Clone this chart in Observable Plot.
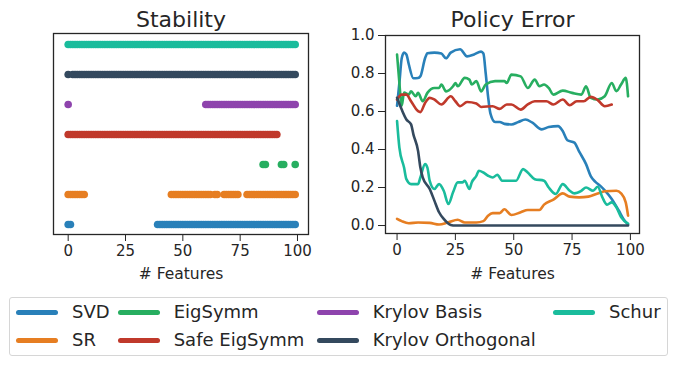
<!DOCTYPE html>
<html>
<head>
<meta charset="utf-8">
<script src="https://cdn.jsdelivr.net/npm/d3@7"></script>
<script src="https://cdn.jsdelivr.net/npm/@observablehq/plot@0.6"></script>
<style>
  html, body { margin: 0; padding: 0; background: #fff; }
  #wrap { position: relative; width: 676px; height: 367px; font-family: "DejaVu Sans", sans-serif; color: #262626; }
  #left, #right { position: absolute; top: 0; }
  #left { left: 0; }
  #right { left: 330px; }
  #legend { position: absolute; left: 9px; top: 297px; width: 659px; height: 59px; border: 1px solid #d6d6d6; border-radius: 3px; box-sizing: border-box; }
  .item { position: absolute; height: 24px; font-size: 18px; line-height: 24px; white-space: nowrap; }
  .swatch { position: absolute; left: 0; top: 10px; width: 42px; height: 4.5px; border-radius: 3px; }
  .lab { position: absolute; left: 56px; top: 0; }
</style>
</head>
<body>
<div id="wrap">
  <div id="left"></div>
  <div id="right"></div>
  <div id="legend"></div>
</div>
<script>
// ---- categories & colours ----
const methods = ["SVD", "SR", "EigSymm", "Safe EigSymm", "Krylov Basis", "Krylov Orthogonal", "Schur"];
const colors  = ["#2980b9", "#e67e22", "#27ae60", "#c0392b", "#8e44ad", "#34495e", "#1abc9c"];
const xTicks = [0, 25, 50, 75, 100];
const yTicks = [0, 0.2, 0.4, 0.6, 0.8, 1.0];

// ---- Stability: ranges of # features [from, to] where the method is stable ----
const stableSVD      = [[0, 1], [39, 99]];
const stableSR       = [[0, 7], [45, 62], [64, 65], [68, 74], [78, 99]];
const stableEigSymm  = [[85, 86], [93, 94], [99, 99]];
const stableSafeEig  = [[0, 91]];
const stableKBasis   = [[0, 0], [60, 99]];
const stableKOrth    = [[0, 0], [2, 99]];
const stableSchur    = [[0, 99]];

// ---- Policy error: [# features, error] ----
const errSVD = [[0,.63],[1,.75],[2,.88],[3,.91],[4,.9],[5,.85],[7,.775],[9,.776],[10,.785],[12,.88],[13,.907],[16,.91],[19,.905],[21,.88],[23,.91],[27,.928],[30,.89],[33,.9],[36,.915],[37,.905],[38,.8],[39,.68],[40,.59],[42,.545],[44,.545],[46,.535],[49,.532],[52,.545],[55,.558],[58,.541],[62,.506],[65,.518],[69,.523],[71,.497],[73,.449],[76,.436],[78,.39],[81,.323],[83,.26],[85,.23],[87,.21],[89,.185],[92,.14],[95,.079],[97,.035],[99,.005]];
const errSR = [[0,.035],[2,.023],[5,.012],[9,.016],[14,.014],[18,.005],[22,.017],[26,.03],[29,.016],[34,.016],[37,.023],[39,.052],[41,.065],[44,.065],[46,.086],[49,.055],[53,.07],[56,.082],[61,.082],[63,.11],[67,.136],[71,.169],[74,.152],[78,.148],[82,.152],[86,.169],[89,.18],[94,.183],[96,.169],[98,.122],[99,.052]];
const errEigSymm = [[0,.9],[1,.75],[2,.63],[3,.7],[5,.689],[6,.706],[8,.68],[9,.698],[11,.654],[13,.698],[16,.724],[18,.724],[19,.742],[21,.706],[24,.733],[25,.75],[26,.733],[29,.777],[31,.768],[32,.742],[34,.76],[36,.706],[38,.742],[42,.76],[46,.76],[47,.75],[49,.794],[53,.785],[56,.724],[59,.768],[61,.733],[63,.742],[65,.724],[67,.689],[71,.71],[75,.698],[79,.689],[81,.733],[83,.672],[86,.663],[89,.68],[92,.75],[94,.707],[96,.742],[98,.777],[99,.68]];
const errSafeEig = [[0,.663],[2,.689],[4,.689],[6,.654],[9,.602],[10,.597],[12,.645],[14,.672],[16,.663],[19,.637],[23,.68],[25,.654],[27,.628],[30,.65],[34,.642],[36,.624],[41,.628],[44,.614],[47,.637],[49,.637],[53,.61],[56,.637],[59,.654],[64,.654],[67,.637],[71,.663],[74,.633],[77,.654],[80,.654],[83,.677],[86,.66],[89,.628],[92,.637]];
const errKOrth = [[0,.672],[2,.61],[4,.558],[6,.532],[7,.48],[9,.393],[10,.305],[11,.253],[14,.192],[16,.131],[18,.07],[20,.035],[23,.003],[25,0],[99,0]];
const errSchur = [[0,.55],[1,.41],[3,.305],[4,.244],[6,.218],[9,.218],[10,.253],[12,.323],[13,.305],[14,.235],[16,.192],[18,.218],[20,.183],[22,.113],[24,.175],[26,.227],[28,.227],[29,.236],[31,.192],[32,.227],[34,.262],[35,.288],[37,.279],[39,.262],[41,.253],[43,.267],[45,.236],[48,.236],[51,.236],[54,.297],[56,.279],[59,.244],[63,.236],[65,.2],[68,.166],[71,.218],[74,.183],[76,.169],[79,.183],[81,.2],[84,.183],[86,.204],[88,.148],[90,.11],[92,.122],[94,.096],[96,.044],[99,.01]];

// ---- build tables ----
const stableRanges = {"SVD": stableSVD, "SR": stableSR, "EigSymm": stableEigSymm, "Safe EigSymm": stableSafeEig,
  "Krylov Basis": stableKBasis, "Krylov Orthogonal": stableKOrth, "Schur": stableSchur};
const stab = [];
for (const m of methods) for (const [a, b] of stableRanges[m]) for (let f = a; f <= b; f++) stab.push({method: m, f});

const errSeries = {"SVD": errSVD, "SR": errSR, "EigSymm": errEigSymm, "Safe EigSymm": errSafeEig,
  "Krylov Orthogonal": errKOrth, "Schur": errSchur};
const errRows = [];
for (const m of ["SVD", "SR", "EigSymm", "Safe EigSymm", "Schur", "Krylov Orthogonal"])
  for (const [f, e] of errSeries[m]) errRows.push({method: m, f, e});

const ink = "#262626";
const baseStyle = {fontFamily: "DejaVu Sans", fontSize: "15px", color: ink, background: "transparent", overflow: "visible"};

const left = Plot.plot({
  width: 330, height: 290,
  marginLeft: 53, marginRight: 22, marginTop: 33, marginBottom: 56,
  style: baseStyle,
  x: {domain: [-6.4, 104.8], ticks: xTicks, tickSize: 7, tickPadding: 4, label: null},
  y: {type: "point", domain: methods.slice().reverse(), padding: 0.35, axis: null},
  color: {domain: methods, range: colors},
  marks: [
    Plot.dot(stab, {x: "f", y: "method", fill: "method", r: 3.8}),
    Plot.frame({stroke: ink, strokeWidth: 1.3}),
    Plot.text(["Stability"], {frameAnchor: "top", dy: -7, lineAnchor: "bottom", fontSize: 22, fill: ink}),
    Plot.text(["# Features"], {frameAnchor: "bottom", dy: 44, lineAnchor: "bottom", fontSize: 15.5, fill: ink})
  ]
});
document.getElementById("left").appendChild(left);

const right = Plot.plot({
  width: 346, height: 290,
  marginLeft: 55, marginRight: 37, marginTop: 35, marginBottom: 57,
  style: baseStyle,
  x: {domain: [-4.95, 103.9], ticks: xTicks, tickSize: 7, tickPadding: 4, label: null},
  y: {domain: [-0.042, 1.0], ticks: yTicks, tickFormat: d3.format(".1f"), tickSize: 7, tickPadding: 4, label: null},
  color: {domain: methods, range: colors},
  marks: [
    Plot.line(errRows, {x: "f", y: "e", z: "method", stroke: "method", strokeWidth: 2.6, curve: "monotone-x"}),
    Plot.frame({stroke: ink, strokeWidth: 1.3}),
    Plot.text(["Policy Error"], {frameAnchor: "top", dy: -9, lineAnchor: "bottom", fontSize: 22, fill: ink}),
    Plot.text(["# Features"], {frameAnchor: "bottom", dy: 45, lineAnchor: "bottom", fontSize: 15.5, fill: ink})
  ]
});
document.getElementById("right").appendChild(right);

// ---- legend ----
const legendCols = [[0, 1], [2, 3], [4, 5], [6]];
const colX = [6, 107.7, 306.7, 543];
const rowY = [2, 30];
const legend = document.getElementById("legend");
legendCols.forEach((idxs, c) => idxs.forEach((i, r) => {
  const it = document.createElement("div");
  it.className = "item";
  it.style.left = colX[c] + "px";
  it.style.top = rowY[r] + "px";
  it.innerHTML = `<div class="swatch" style="background:${colors[i]}"></div><div class="lab">${methods[i]}</div>`;
  legend.appendChild(it);
}));
</script>
</body>
</html>
